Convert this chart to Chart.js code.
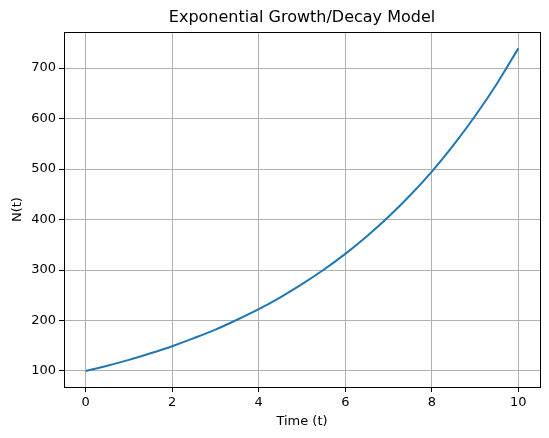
<!DOCTYPE html>
<html>
<head>
<meta charset="utf-8">
<script src="https://cdn.jsdelivr.net/npm/chart.js@4"></script>
<style>
  body { margin: 0; background: #fff; }
  #wrap { width: 549px; height: 438px; }
</style>
</head>
<body>
<div id="wrap"><canvas id="c" width="549" height="438"></canvas></div>
<script>
// values
var times = [0, 0.5, 1, 1.5, 2, 2.5, 3, 3.5, 4, 4.5, 5, 5.5, 6, 6.5, 7, 7.5, 8, 8.5, 9, 9.5, 10];
var population = [100, 110.5, 122, 135, 149, 165, 182, 201.5, 222.5, 246, 272, 300.5, 332, 367, 405.5, 448, 495, 547.5, 605, 668.5, 739];
var xTicks = [0, 2, 4, 6, 8, 10];
var yTicks = [100, 200, 300, 400, 500, 600, 700];

var font = 'DejaVu Sans';

// black frame around the plot area
var frame = {
    id: 'frame',
    afterDraw: function(chart) {
        var a = chart.chartArea, ctx = chart.ctx;
        ctx.save();
        ctx.strokeStyle = '#000';
        ctx.lineWidth = 1;
        ctx.strokeRect(Math.round(a.left) + 0.5, Math.round(a.top) + 0.5,
            Math.round(a.right - a.left), Math.round(a.bottom - a.top));
        ctx.restore();
    }
};

var pts = times.map(function(t, i) { return {x: t, y: population[i]}; });

new Chart(document.getElementById('c'), {
    type: 'line',
    data: {
        datasets: [{
            data: pts,
            borderColor: '#1f77b4',
            borderWidth: 2,
            pointRadius: 0,
            fill: false,
            cubicInterpolationMode: 'monotone'
        }]
    },
    options: {
        responsive: false,
        animation: false,
        layout: { padding: { left: 0, right: 9, top: 0, bottom: 0 } },
        plugins: {
            legend: { display: false },
            tooltip: { enabled: false },
            title: {
                display: true,
                fullSize: false,
                text: 'Exponential Growth/Decay Model',
                color: '#000',
                font: { family: font, size: 16, weight: 'normal' },
                padding: { top: 8, bottom: 5 }
            }
        },
        scales: {
            x: {
                type: 'linear',
                min: -0.5,
                max: 10.5,
                afterBuildTicks: function(s) { s.ticks = xTicks.map(function(v) { return {value: v}; }); },
                afterFit: function(s) { s.height = 51; },
                ticks: { color: '#000', font: { family: font, size: 13 }, padding: 3, maxRotation: 0 },
                grid: { color: '#b0b0b0', tickColor: '#000', tickLength: 5, lineWidth: 1 },
                border: { display: false },
                title: { display: true, text: 'Time (t)', color: '#000', font: { family: font, size: 13 }, padding: { top: 0, bottom: 9 } }
            },
            y: {
                min: 68.3,
                max: 771,
                afterBuildTicks: function(s) { s.ticks = yTicks.map(function(v) { return {value: v}; }); },
                afterFit: function(s) { s.width = 64; },
                ticks: { color: '#000', font: { family: font, size: 13 }, padding: 3 },
                grid: { color: '#b0b0b0', tickColor: '#000', tickLength: 5, lineWidth: 1 },
                border: { display: false },
                title: { display: true, text: 'N(t)', color: '#000', font: { family: font, size: 13 }, padding: { top: 10, bottom: 0 } }
            }
        }
    },
    plugins: [frame]
});
</script>
</body>
</html>
